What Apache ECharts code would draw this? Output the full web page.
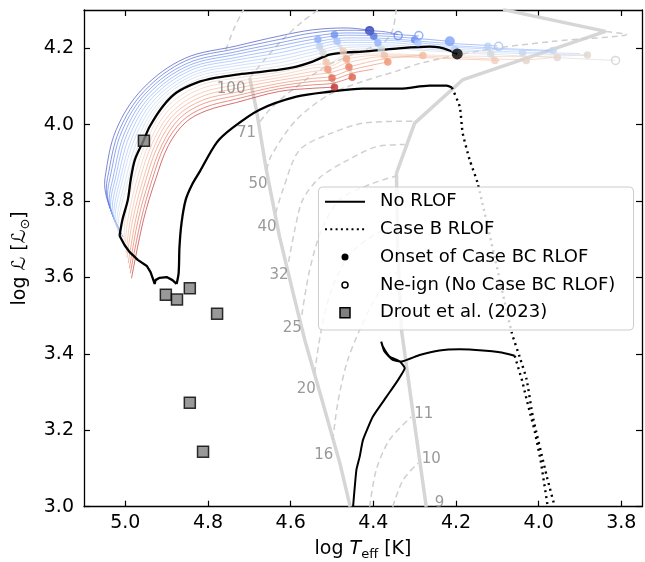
<!DOCTYPE html>
<html><head><meta charset="utf-8">
<script src="https://cdn.jsdelivr.net/npm/echarts@6/dist/echarts.min.js"></script>
<style>html,body{margin:0;padding:0;background:#fff}#c{width:645px;height:562px}</style>
</head><body><div id="c"></div>
<script>
// ---------------- DATA ----------------
const xTicks = [5.0, 4.8, 4.6, 4.4, 4.2, 4.0, 3.8];
const yTicks = [3.0, 3.2, 3.4, 3.6, 3.8, 4.0, 4.2];

// black "No RLOF" track: lower branch, hook, upper branch
const noRLOFLowerBranch = [[4.210,4.097],[4.223,4.102],[4.264,4.102],[4.336,4.094],[4.426,4.094],[4.506,4.086],[4.586,4.073],[4.675,4.039],[4.740,3.992],[4.779,3.953],[4.820,3.877],[4.839,3.842],[4.854,3.803],[4.864,3.743],[4.869,3.680],[4.871,3.612],[4.876,3.583]];
const noRLOFHook = [[4.876,3.583],[4.886,3.593],[4.900,3.601],[4.917,3.599],[4.927,3.593],[4.929,3.583],[4.934,3.599],[4.939,3.614],[4.948,3.630],[4.970,3.646],[4.990,3.667],[5.002,3.685],[5.014,3.709]];
const noRLOFUpperBranch = [[5.014,3.709],[5.007,3.751],[4.994,3.803],[4.987,3.856],[4.977,3.908],[4.956,3.958],[4.941,3.995],[4.910,4.047],[4.876,4.084],[4.827,4.110],[4.779,4.123],[4.731,4.131],[4.682,4.137],[4.627,4.144],[4.586,4.152],[4.547,4.165],[4.506,4.183],[4.465,4.189],[4.426,4.191],[4.344,4.199],[4.264,4.204],[4.240,4.202],[4.216,4.194],[4.197,4.185]];
// second black track (low)
const noRLOFLow = [[4.449,3.0],[4.441,3.096],[4.433,3.131],[4.425,3.175],[4.401,3.236],[4.368,3.288],[4.340,3.332],[4.324,3.363],[4.336,3.380],[4.361,3.393],[4.377,3.419],[4.381,3.432],[4.373,3.406],[4.353,3.384],[4.332,3.380],[4.288,3.397],[4.240,3.409],[4.191,3.412],[4.135,3.409],[4.094,3.404],[4.058,3.395]];
// Case B RLOF dotted
const caseB1 = [[4.210,4.097],[4.191,4.047],[4.184,3.979],[4.167,3.908],[4.148,3.848],[4.106,3.651],[4.065,3.455],[4.046,3.392],[4.029,3.332],[4.014,3.235],[3.980,3.078],[3.961,3.0]];
const caseB2 = [[4.058,3.395],[4.040,3.330],[4.029,3.280],[4.010,3.200],[3.995,3.120],[3.978,3.0]];

// Drout et al. (2023)
const droutX = [4.955,4.902,4.875,4.844,4.778,4.844,4.812];
const droutY = [3.958,3.555,3.542,3.572,3.505,3.272,3.144];

// thick grey reference lines
const greyLineA = [[4.699,4.122],[4.683,4.039],[4.667,3.934],[4.659,3.882],[4.627,3.707],[4.594,3.559],[4.566,3.437],[4.522,3.271],[4.481,3.114],[4.456,3.0]];
const greyLineB = [[4.272,3.0],[4.304,3.245],[4.332,3.463],[4.341,3.672],[4.344,3.873],[4.300,4.004],[4.183,4.118],[3.838,4.244],[4.086,4.301]];
const greyCols = [
  [[4.534,4.223],[4.530,4.205],[4.522,4.189],[4.514,4.163],[4.510,4.144],[4.500,4.122],[4.494,4.098]],
  [[4.494,4.235],[4.488,4.218],[4.473,4.192],[4.465,4.172],[4.459,4.151],[4.451,4.124]],
  [[4.409,4.247],[4.399,4.231],[4.389,4.214],[4.381,4.198],[4.373,4.181],[4.365,4.164]],
  [[4.123,4.205],[4.116,4.185],[4.106,4.168]]
];

// dashed tracks
const trackTop = [[4.757,4.196],[4.736,4.254],[4.711,4.307]];
const track100 = [[4.699,4.123],[4.663,4.170],[4.619,4.223],[4.571,4.270],[4.525,4.307]];
const track71 = [[4.674,4.008],[4.651,4.039],[4.595,4.092],[4.514,4.153],[4.433,4.191],[4.373,4.217],[4.353,4.249],[4.344,4.307]];
const track50 = [[4.658,3.882],[4.646,3.921],[4.586,4.013],[4.506,4.079],[4.426,4.113],[4.344,4.140],[4.281,4.162],[4.127,4.196],[3.965,4.218],[3.787,4.236],[3.838,4.244]];
const track40 = [[4.636,3.769],[4.619,3.829],[4.578,3.934],[4.498,3.979],[4.417,4.005],[4.305,4.009]];
const track32 = [[4.605,3.641],[4.590,3.725],[4.571,3.803],[4.530,3.861],[4.469,3.903],[4.393,3.942],[4.324,3.948]];
const track25 = [[4.573,3.502],[4.554,3.620],[4.525,3.725],[4.481,3.804],[4.409,3.843],[4.344,3.866]];
const track20 = [[4.542,3.350],[4.526,3.463],[4.501,3.568],[4.458,3.659],[4.397,3.712],[4.341,3.738]];
const track16 = [[4.498,3.175],[4.486,3.272],[4.464,3.377],[4.433,3.463],[4.397,3.542],[4.361,3.594],[4.336,3.620]];
const track11 = [[4.409,3.0],[4.393,3.096],[4.361,3.175],[4.308,3.235]];
const track10 = [[4.353,3.0],[4.328,3.070],[4.292,3.114]];
const dashedTracks = [trackTop, track100, track71, track50, track40, track32, track25, track20, track16, track11, track10];

// mass labels
const massLabels = ['100','71','50','40','32','25','20','16','11','10','9'];
const massLabelX = [4.744,4.707,4.679,4.657,4.628,4.596,4.562,4.520,4.278,4.260,4.240];
const massLabelY = [4.092,3.978,3.843,3.732,3.607,3.467,3.308,3.135,3.243,3.125,3.010];

// fan of coloured tracks (blue side, outermost first)
const fanBlue = [
 [[5.006,3.706],[5.050,3.843],[5.049,3.862],[5.022,3.987],[4.958,4.094],[4.857,4.173],[4.731,4.206],[4.627,4.232],[4.547,4.248],[4.465,4.253],[4.409,4.247]],
 [[5.006,3.706],[5.046,3.830],[5.043,3.861],[5.015,3.984],[4.953,4.089],[4.854,4.167],[4.731,4.199],[4.627,4.223],[4.547,4.240],[4.465,4.247],[4.38,4.244],[4.340,4.236]],
 [[5.006,3.706],[5.043,3.816],[5.037,3.861],[5.009,3.981],[4.948,4.085],[4.851,4.160],[4.731,4.191],[4.627,4.214],[4.547,4.231],[4.465,4.240],[4.38,4.238],[4.290,4.232]],
 [[5.006,3.706],[5.039,3.803],[5.030,3.860],[5.002,3.978],[4.944,4.080],[4.848,4.154],[4.731,4.184],[4.627,4.206],[4.547,4.223],[4.465,4.234],[4.38,4.232],[4.30,4.226],[4.215,4.218]],
 [[5.006,3.706],[5.036,3.789],[5.024,3.860],[4.996,3.975],[4.939,4.075],[4.845,4.148],[4.731,4.176],[4.627,4.197],[4.547,4.215],[4.465,4.227],[4.38,4.226],[4.25,4.215],[4.10,4.206]],
 [[5.006,3.706],[5.032,3.776],[5.018,3.859],[4.989,3.973],[4.934,4.071],[4.842,4.142],[4.731,4.169],[4.627,4.188],[4.547,4.207],[4.465,4.221],[4.38,4.221],[4.25,4.210],[4.10,4.200],[3.965,4.194]],
 [[5.006,3.706],[5.028,3.763],[5.012,3.858],[4.982,3.970],[4.929,4.066],[4.839,4.135],[4.731,4.161],[4.627,4.179],[4.547,4.198],[4.465,4.215],[4.38,4.215],[4.25,4.205],[4.10,4.197],[3.965,4.192]],
 [[5.006,3.706],[5.025,3.749],[5.006,3.858],[4.976,3.967],[4.924,4.061],[4.836,4.129],[4.731,4.154],[4.627,4.170],[4.547,4.190],[4.465,4.208],[4.38,4.209],[4.25,4.200],[4.10,4.192],[3.90,4.186]],
 [[5.006,3.706],[5.021,3.736],[4.999,3.857],[4.969,3.964],[4.920,4.056],[4.833,4.123],[4.731,4.146],[4.627,4.162],[4.547,4.182],[4.465,4.202],[4.38,4.204],[4.25,4.196],[4.10,4.188],[3.88,4.182]],
 [[5.006,3.706],[5.018,3.722],[4.993,3.857],[4.963,3.961],[4.915,4.052],[4.830,4.116],[4.731,4.139],[4.627,4.153],[4.547,4.173],[4.465,4.195],[4.38,4.199],[4.25,4.192],[4.10,4.183],[3.815,4.168]]
];
// red side (nearest the black track first)
const fanRed = [
 [[5.003,3.690],[5.001,3.751],[4.980,3.856],[4.949,3.956],[4.903,4.042],[4.824,4.101],[4.731,4.122],[4.627,4.137],[4.547,4.156],[4.500,4.163],[4.473,4.180],[4.373,4.185],[4.20,4.180],[4.05,4.178],[3.882,4.182]],
 [[5.001,3.677],[4.994,3.751],[4.972,3.856],[4.941,3.955],[4.896,4.037],[4.822,4.092],[4.731,4.113],[4.627,4.130],[4.547,4.148],[4.500,4.154],[4.465,4.172],[4.373,4.182],[4.20,4.176],[4.03,4.170],[3.955,4.177]],
 [[4.998,3.664],[4.988,3.751],[4.965,3.856],[4.934,3.953],[4.889,4.031],[4.819,4.082],[4.731,4.104],[4.627,4.123],[4.547,4.139],[4.500,4.146],[4.462,4.162],[4.373,4.178],[4.20,4.172],[4.094,4.168]],
 [[4.996,3.651],[4.982,3.751],[4.957,3.856],[4.926,3.952],[4.883,4.026],[4.816,4.073],[4.731,4.095],[4.627,4.116],[4.547,4.130],[4.500,4.137],[4.459,4.151],[4.373,4.172],[4.280,4.181]],
 [[4.993,3.637],[4.975,3.751],[4.950,3.856],[4.919,3.950],[4.876,4.021],[4.813,4.064],[4.731,4.085],[4.627,4.108],[4.547,4.121],[4.500,4.126],[4.455,4.143],[4.365,4.164]],
 [[4.990,3.624],[4.969,3.751],[4.942,3.856],[4.911,3.948],[4.869,4.016],[4.811,4.055],[4.731,4.076],[4.627,4.101],[4.547,4.113],[4.500,4.117],[4.45,4.135],[4.40,4.145]],
 [[4.988,3.611],[4.962,3.751],[4.935,3.856],[4.904,3.947],[4.862,4.010],[4.808,4.045],[4.731,4.067],[4.627,4.094],[4.547,4.104],[4.500,4.108],[4.451,4.124]],
 [[4.985,3.598],[4.956,3.751],[4.927,3.856],[4.896,3.945],[4.855,4.005],[4.805,4.036],[4.731,4.058],[4.627,4.087],[4.547,4.095],[4.494,4.098]]
];

// onset of Case BC RLOF (filled) and Ne ignition (open)
const onsetX = [4.534,4.494,4.488,4.530,4.522,4.473,4.514,4.465,4.510,4.459,4.500,4.451,4.494,4.409,4.399,4.389,4.381,4.373,4.365,4.300,4.292,4.280,4.215,4.203,4.123,4.116,4.106,4.039,4.030,3.965,3.955,3.882];
const onsetY = [4.223,4.235,4.218,4.205,4.189,4.192,4.163,4.172,4.144,4.151,4.122,4.124,4.098,4.247,4.231,4.214,4.198,4.181,4.164,4.222,4.214,4.181,4.218,4.198,4.205,4.185,4.168,4.189,4.168,4.194,4.176,4.182];
const onsetBlack = [4.197, 4.185];
const neignX = [4.409,4.340,4.290,4.097,3.814];
const neignY = [4.246,4.233,4.233,4.205,4.168];

// ---------------- STYLES ----------------
const blueColors = ['#3b4cc0','#4a63d3','#5b7be5','#6e92f2','#82a6fb','#97b8ff','#aac7fd','#bcd2f7','#cbd8ee','#d9dce1'];
const redColors = ['#ead4c8','#f2c9b4','#f5b89d','#f5a688','#f08f71','#e6755c','#d85646','#c0282d'];
const onsetColors = ['#8db0fe','#6f92f3','#a9c6fd','#c3d5f4','#dddcdc','#efcfbf','#f4c5ad','#f6a385','#f39778','#ec7f63','#e36a53','#dd5f4b','#c32e31','#3b4cc0','#5a78e4','#93b5fe','#d5dbe5','#f5c2aa','#f0956f','#6a8bef','#b0cbfc','#f4b99b','#7da0f9','#b7cff9','#bad0f8','#d5d9e0','#f2cdbb','#c5d5ef','#e3d3c8','#c6d4ec','#e3d5cc','#e0d6d0'];
const onsetSizes = onsetX.map((_, i) => i === 22 ? 10 : 7.5);
const neignColors = ['#3b4cc0','#6a8bef','#7b9ff9','#a9c3f5','#d0d0d0'];

const FONT = 'DejaVu Sans';
const series = [];
function addLine(data, opts) {
  series.push(Object.assign({
    type: 'line', data: data, showSymbol: false, symbol: 'none', silent: true,
    animation: false, clip: true
  }, opts));
}
// grey thick
addLine(greyLineA, {lineStyle: {color: '#d6d6d6', width: 3.5}, z: 1});
addLine(greyLineB, {lineStyle: {color: '#d6d6d6', width: 3.5}, z: 1});
greyCols.forEach(c => addLine(c, {lineStyle: {color: '#dedede', width: 3.5, opacity: 0.9}, z: 1}));
// dashed
dashedTracks.forEach(t => addLine(t, {smooth: 0.3, lineStyle: {color: '#cfcfcf', width: 1.5, type: [6, 4]}, z: 1}));
// fan
fanBlue.forEach((t, i) => addLine(t, {smooth: 0.35, lineStyle: {color: blueColors[i], width: 0.8, opacity: 0.85}, z: 2}));
fanRed.forEach((t, i) => addLine(t, {smooth: 0.35, lineStyle: {color: redColors[i], width: 0.8, opacity: 0.85}, z: 2}));
// black tracks
addLine(noRLOFLowerBranch, {smooth: 0.3, lineStyle: {color: '#000', width: 2.3}, z: 3});
addLine(noRLOFHook, {lineStyle: {color: '#000', width: 2.3}, z: 3});
addLine(noRLOFUpperBranch, {smooth: 0.3, lineStyle: {color: '#000', width: 2.3}, z: 3});
addLine(noRLOFLow, {smooth: 0.15, lineStyle: {color: '#000', width: 2.0}, z: 3});
addLine(caseB1, {smooth: 0.2, lineStyle: {color: '#000', width: 2.4, type: [2, 4]}, z: 3});
addLine(caseB2, {lineStyle: {color: '#000', width: 2.4, type: [2, 4]}, z: 3});
// mass labels
series.push({
  type: 'scatter', symbolSize: 0, silent: true, z: 4, animation: false,
  data: massLabels.map((m, i) => ({name: m, value: [massLabelX[i], massLabelY[i]]})),
  label: {show: true, position: 'inside', formatter: '{b}', color: '#808080', fontSize: 15, fontFamily: FONT}
});
// onset dots
series.push({
  type: 'scatter', silent: true, z: 5, animation: false, symbol: 'circle',
  data: onsetX.map((x, i) => ({value: [x, onsetY[i]], symbolSize: onsetSizes[i], itemStyle: {color: onsetColors[i]}}))
});
series.push({
  type: 'scatter', silent: true, z: 5, animation: false, symbol: 'circle', symbolSize: 8,
  data: neignX.map((x, i) => ({value: [x, neignY[i]], itemStyle: {color: 'rgba(0,0,0,0)', borderColor: neignColors[i], borderWidth: 1.5}}))
});
series.push({
  type: 'scatter', silent: true, z: 5, animation: false, symbol: 'circle', symbolSize: 11,
  data: [onsetBlack], itemStyle: {color: '#000'}
});
// Drout
series.push({
  type: 'scatter', silent: true, z: 6, animation: false, symbol: 'rect', symbolSize: 11,
  data: droutX.map((x, i) => [x, droutY[i]]),
  itemStyle: {color: '#808080', borderColor: '#000', borderWidth: 1.5}
});

const axCommon = {
  axisLine: {show: true, onZero: false, lineStyle: {color: '#000', width: 1.3}},
  splitLine: {show: false}
};
const option = {
  backgroundColor: '#fff',
  animation: false,
  grid: {left: 84, top: 10, width: 558, height: 496.7, containLabel: false, outerBoundsMode: 'none'},
  xAxis: [
    Object.assign({}, axCommon, {
      type: 'value', min: 3.75, max: 5.1, inverse: true, position: 'bottom',
      axisTick: {show: true, inside: true, length: 6, lineStyle: {width: 1.2, color: '#000'}, customValues: xTicks},
      axisLabel: {show: true, customValues: xTicks, formatter: v => v.toFixed(1), fontSize: 19, fontFamily: FONT, color: '#000', margin: 7},
      name: '{n|log }{t|T}{s|eff}{n| [K]}', nameLocation: 'middle', nameGap: 31,
      nameTextStyle: {fontFamily: FONT, color: '#000', rich: {
        n: {fontSize: 19, fontFamily: FONT, color: '#000'},
        t: {fontSize: 19, fontFamily: FONT, fontStyle: 'italic', color: '#000'},
        s: {fontSize: 13, fontFamily: FONT, color: '#000', padding: [10, 0, 0, 0]}
      }}
    }),
    Object.assign({}, axCommon, {
      type: 'value', min: 3.75, max: 5.1, inverse: true, position: 'top',
      axisTick: {show: true, inside: true, length: 6, lineStyle: {width: 1.2, color: '#000'}, customValues: xTicks},
      axisLabel: {show: false}
    })
  ],
  yAxis: [
    Object.assign({}, axCommon, {
      type: 'value', min: 3.0, max: 4.3, position: 'left',
      axisTick: {show: true, inside: true, length: 6, lineStyle: {width: 1.2, color: '#000'}, customValues: yTicks},
      axisLabel: {show: true, customValues: yTicks, formatter: v => v.toFixed(1), fontSize: 19, fontFamily: FONT, color: '#000', margin: 10},
      name: '{n|log }{t|ℒ}{n| [}{t|ℒ}{s|⊙}{n|]}', nameLocation: 'middle', nameGap: 52,
      nameTextStyle: {fontFamily: FONT, color: '#000', rich: {
        n: {fontSize: 19, fontFamily: FONT, color: '#000'},
        t: {fontSize: 19, fontFamily: FONT, fontStyle: 'italic', color: '#000'},
        s: {fontSize: 13, fontFamily: FONT, color: '#000', padding: [10, 0, 0, 0]}
      }}
    }),
    Object.assign({}, axCommon, {
      type: 'value', min: 3.0, max: 4.3, position: 'right',
      axisTick: {show: true, inside: true, length: 6, lineStyle: {width: 1.2, color: '#000'}, customValues: yTicks},
      axisLabel: {show: false}
    })
  ],
  series: series,
  graphic: [
    {type: 'rect', z: 100, shape: {x: 318.5, y: 187, width: 315, height: 143, r: 4}, style: {fill: 'rgba(255,255,255,0.8)', stroke: '#cccccc', lineWidth: 1}},
    {type: 'line', z: 101, shape: {x1: 325, y1: 201.7, x2: 365, y2: 201.7}, style: {stroke: '#000', lineWidth: 2}},
    {type: 'line', z: 101, shape: {x1: 325, y1: 229.3, x2: 365, y2: 229.3}, style: {stroke: '#000', lineWidth: 2, lineDash: [2, 3.3]}},
    {type: 'circle', z: 101, shape: {cx: 345, cy: 257, r: 3.5}, style: {fill: '#000'}},
    {type: 'circle', z: 101, shape: {cx: 345, cy: 285, r: 3}, style: {fill: '#fff', stroke: '#000', lineWidth: 1.5}},
    {type: 'rect', z: 101, shape: {x: 340, y: 307.7, width: 10, height: 10}, style: {fill: '#808080', stroke: '#000', lineWidth: 1.5}},
    {type: 'text', z: 101, x: 380, y: 201.7, style: {text: 'No RLOF', font: '18px "DejaVu Sans"', fill: '#000', verticalAlign: 'middle', textVerticalAlign: 'middle'}},
    {type: 'text', z: 101, x: 380, y: 229.3, style: {text: 'Case B RLOF', font: '18px "DejaVu Sans"', fill: '#000', verticalAlign: 'middle', textVerticalAlign: 'middle'}},
    {type: 'text', z: 101, x: 380, y: 257, style: {text: 'Onset of Case BC RLOF', font: '18px "DejaVu Sans"', fill: '#000', verticalAlign: 'middle', textVerticalAlign: 'middle'}},
    {type: 'text', z: 101, x: 380, y: 285, style: {text: 'Ne-ign (No Case BC RLOF)', font: '18px "DejaVu Sans"', fill: '#000', verticalAlign: 'middle', textVerticalAlign: 'middle'}},
    {type: 'text', z: 101, x: 380, y: 312.7, style: {text: 'Drout et al. (2023)', font: '18px "DejaVu Sans"', fill: '#000', verticalAlign: 'middle', textVerticalAlign: 'middle'}}
  ]
};
const chart = echarts.init(document.getElementById('c'), null, {renderer: 'canvas'});
chart.setOption(option);
</script></body></html>
